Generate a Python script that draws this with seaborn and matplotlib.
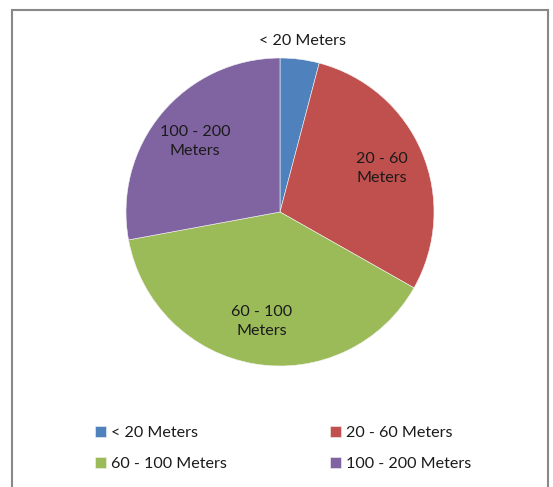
import matplotlib
matplotlib.use("Agg")
import matplotlib.pyplot as plt
import seaborn as sns
import numpy as np
from matplotlib.patches import Rectangle

categories = ["< 20 Meters", "20 - 60 Meters", "60 - 100 Meters", "100 - 200 Meters"]
slice_labels = ["< 20 Meters", "20 - 60\nMeters", "60 - 100\nMeters", "100 - 200\nMeters"]
values = [4.1, 29.1, 38.9, 27.9]
colors = ["#4F81BD", "#C0504D", "#9BBB59", "#8064A2"]

sns.set_theme(style="white")
plt.rcParams['font.family'] = ['Lato', 'DejaVu Sans']

W, H = 553, 487
fig = plt.figure(figsize=(W / 100, H / 100), dpi=100)
fig.patch.set_facecolor("white")

FS = 11.6
cx, cy, R = 280, 212, 154
ax = fig.add_axes([(cx - R) / W, (H - cy - R) / H, 2 * R / W, 2 * R / H])
wedges, texts = ax.pie(values, labels=slice_labels, colors=colors, startangle=90,
                       counterclock=False, labeldistance=0.72,
                       wedgeprops=dict(edgecolor="#f4f4f4", linewidth=0.4),
                       textprops=dict(fontsize=FS, color="#1a1a1a", ha="center",
                                      va="center", linespacing=1.45))
for t in texts:
    t.set_ha("center")
    t.set_va("center")
# first small slice label sits outside
th = np.deg2rad(90 - 360 * values[0] / sum(values) / 2)
texts[0].set_position((1.12 * np.cos(th), 1.12 * np.sin(th)))
ax.set_xlim(-1, 1)
ax.set_ylim(-1, 1)
ax.set_aspect("equal")
ax.axis("off")

order = [0, 2, 1, 3]  # legend fills row by row
fig.legend([wedges[i] for i in order], [categories[i] for i in order], ncol=2,
           loc="upper left", bbox_to_anchor=(80 / W, 1 - 411 / H), frameon=False,
           fontsize=FS, handlelength=0.7, handleheight=0.7,
           handletextpad=0.3, columnspacing=6.4, labelspacing=1.05,
           labelcolor="#1a1a1a")

fig.patches.append(Rectangle((11.5 / W, -0.05), (548 - 11.5) / W, 1.05 - 10 / H,
                             transform=fig.transFigure, fill=False,
                             edgecolor="#888888", linewidth=1.5))
fig.savefig("out.png", dpi=100)
